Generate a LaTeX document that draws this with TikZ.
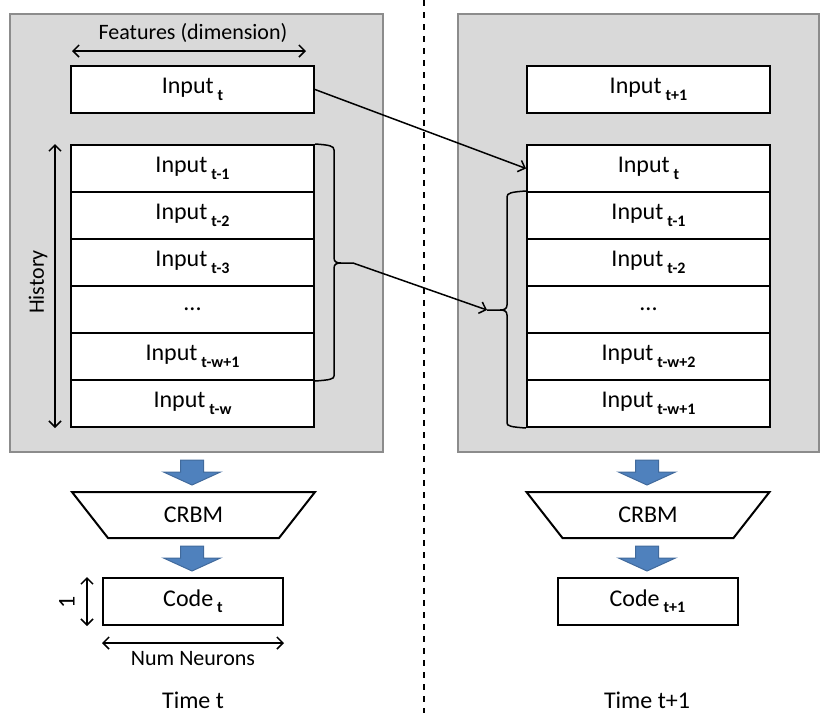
\documentclass[tikz,border=0pt]{standalone}
\usepackage{fontspec}
\setmainfont{Carlito}
\usepackage{tikz}
\usetikzlibrary{positioning,arrows.meta,calc}
\definecolor{panelgray}{RGB}{217,217,217}
\definecolor{paneledge}{RGB}{140,140,140}
\definecolor{flowblue}{RGB}{79,129,189}
\definecolor{flowedge}{RGB}{65,106,156}
\newcommand{\tsub}[1]{\,\raisebox{-0.55ex}{\fontsize{8}{9}\selectfont\bfseries #1}}
\tikzset{
  panel/.style={draw=paneledge, fill=panelgray, line width=1pt},
  inbox/.style={rectangle, draw, line width=1pt, fill=white, minimum width=121.5pt, minimum height=23.5pt, inner sep=0pt, font=\fontsize{12}{14}\selectfont},
  codebox/.style={inbox, minimum width=90pt},
  crbmline/.style={draw, line width=1pt, fill=white},
  dimarrow/.style={line width=0.75pt, {Straight Barb[length=3pt,width=6pt]}-{Straight Barb[length=3pt,width=6pt]}},
  shiftarrow/.style={line width=0.75pt, -{Straight Barb[length=3pt,width=6pt]}},
  bracket/.style={line width=0.75pt},
  flow/.style={fill=flowblue, draw=flowedge, line width=0.5pt},
  lbl/.style={font=\fontsize{11}{13}\selectfont},
  timelbl/.style={font=\fontsize{12}{14}\selectfont}
}

\begin{document}
\begin{tikzpicture}[x=0.5pt, y=-0.5pt]
  \useasboundingbox (0,0) rectangle (821,713);
  % block arrow pointing down: #1 = centre x, #2 = top y
  \def\flowarrow#1#2{%
    \draw[flow] (#1-11.5,#2) -- (#1+11.5,#2) -- (#1+11.5,#2+12) -- (#1+28.5,#2+12)
      -- (#1,#2+25) -- (#1-28.5,#2+12) -- (#1-11.5,#2+12) -- cycle;
  }
  % CRBM trapezoid, wide side on top: #1 = centre x
  \def\crbmshape#1{%
    \draw[crbmline] (#1-121.5,492) -- (#1+121.5,492) -- (#1+85.5,538) -- (#1-85.5,538) -- cycle;
  }

  % grey panels and the divider between the two time steps
  \draw[panel] (10,14) rectangle (383,452);
  \draw[panel] (458,14) rectangle (819,452);
  \draw[dashed, line width=0.75pt] (424,0) -- (424,713);

  % Time t
  \node[inbox] (inA) at (192.5,89.5) {Input\tsub{t}};
  \foreach \i/\txt in {1/{Input\tsub{t-1}}, 2/{Input\tsub{t-2}}, 3/{Input\tsub{t-3}},
                       4/{...}, 5/{Input\tsub{t-w+1}}, 6/{Input\tsub{t-w}}}
    \node[inbox] (rowA\i) at (192.5,121.5+47*\i) {\txt};

  \draw[dimarrow] ([shift={(1pt,7pt)}]inA.north west) -- ([shift={(-4.5pt,7pt)}]inA.north east);
  \node[lbl] (featlbl) at (193,33) {Features (dimension)};
  \draw[dimarrow] ([xshift=-7.5pt]rowA1.north west) -- ([xshift=-7.5pt]rowA6.south west);
  \node[lbl, rotate=90] (histlbl) at (38,282) {History};

  % brace over t-1 ... t-w+1
  \coordinate (tipA) at (353,263);
  \draw[bracket] (rowA1.north east) .. controls (330,145) and (334,146) .. (334,150) -- (334,258)
    .. controls (334,262) and (337,263) .. (341,263) -- (tipA);
  \draw[bracket] (341,263) .. controls (337,263) and (334,264) .. (334,268) -- (334,376)
    .. controls (334,379) and (330,380) .. (rowA5.south east);

  \flowarrow{192}{460}
  \crbmshape{193.5}
  \node[timelbl] (crbmA) at (193.5,515) {CRBM};
  \flowarrow{192}{546}
  \node[codebox] (codeA) at (193,601.5) {Code\tsub{t}};
  \draw[dimarrow] ([xshift=-7.5pt]codeA.north west) -- ([xshift=-7.5pt]codeA.south west);
  \node[font=\fontsize{12}{14}\selectfont, rotate=90] (onelbl) at (67,602) {1};
  \draw[dimarrow] ([yshift=-8.5pt]codeA.south west) -- ([yshift=-8.5pt]codeA.south east);
  \node[lbl] (neurlbl) at (193,659) {Num Neurons};
  \node[timelbl] (timeA) at (193,700) {Time t};

  % Time t+1
  \node[inbox] (inB) at (648.5,89.5) {Input\tsub{t+1}};
  \foreach \i/\txt in {0/{Input\tsub{t}}, 1/{Input\tsub{t-1}}, 2/{Input\tsub{t-2}},
                       3/{...}, 4/{Input\tsub{t-w+2}}, 5/{Input\tsub{t-w+1}}}
    \node[inbox] (rowB\i) at (648.5,168.5+47*\i) {\txt};

  % brace over t-1 ... t-w+1
  \coordinate (tipB) at (487,310);
  \draw[bracket] (rowB1.north west) .. controls (511,192) and (507,193) .. (507,197) -- (507,305)
    .. controls (507,309) and (504,310) .. (500,310) -- (tipB);
  \draw[bracket] (500,310) .. controls (504,310) and (507,311) .. (507,315) -- (507,423)
    .. controls (507,426) and (511,427) .. (rowB5.south west);

  \flowarrow{647}{460}
  \crbmshape{648}
  \node[timelbl] (crbmB) at (648,515) {CRBM};
  \flowarrow{647}{546}
  \node[codebox] (codeB) at (647.5,601.5) {Code\tsub{t+1}};
  \node[timelbl] (timeB) at (647,700) {Time t+1};

  % shifting the window one step
  \draw[shiftarrow] (inA.east) -- (rowB0.west);
  \draw[shiftarrow] (tipA) -- (tipB);

\end{tikzpicture}
\end{document}
